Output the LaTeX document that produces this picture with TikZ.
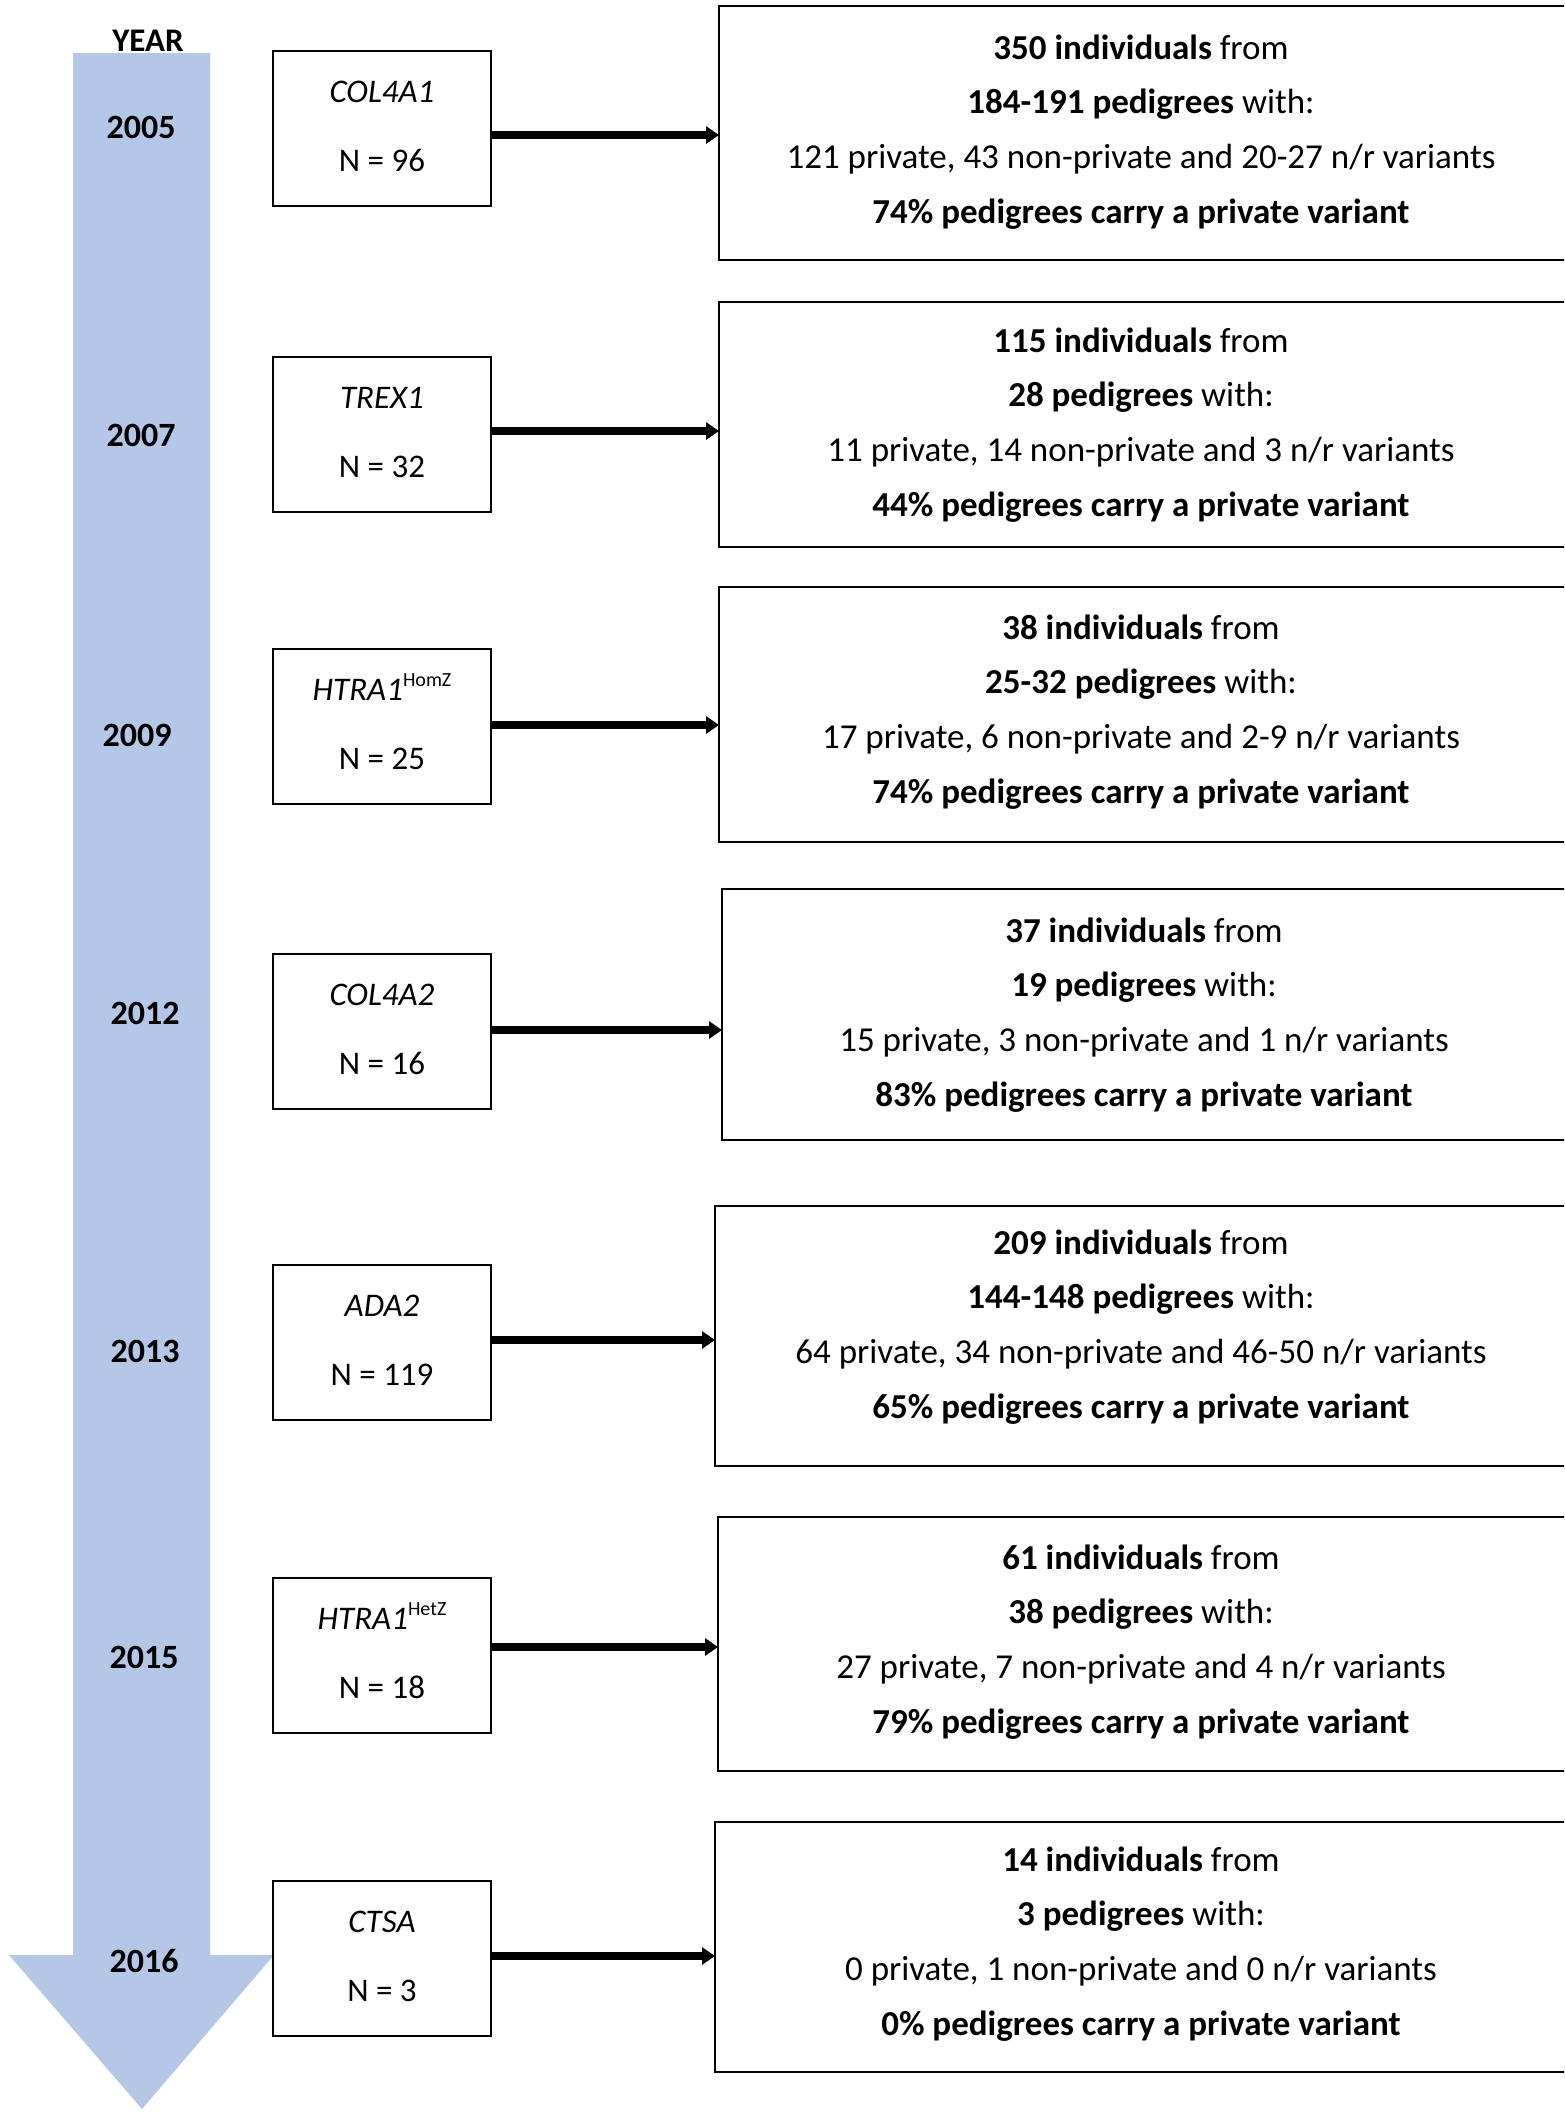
\documentclass[tikz,border=0pt]{standalone}
\usepackage{fontspec}
\setmainfont{Carlito}
\usetikzlibrary{arrows.meta}
\definecolor{tlblue}{RGB}{180,199,231}
\newcommand\hz[1]{\raisebox{0.42em}{\fontsize{20}{20}\selectfont\upshape #1}}
\begin{document}
\begin{tikzpicture}[x=1pt,y=-1pt,
  genebox/.style={draw=black, line width=2.5pt, fill=white, minimum width=218pt, minimum height=155pt, outer sep=0pt, inner sep=0pt, anchor=north west},
  infobox/.style={draw=black, line width=2.5pt, minimum width=880pt, outer sep=0pt, inner sep=0pt, anchor=north west},
  conn/.style={line width=8pt, -{Triangle[length=13pt,width=17pt]}},
  yeartxt/.style={font=\fontsize{34}{40}\selectfont\bfseries, anchor=base, inner sep=0pt},
  genetxt/.style={font=\fontsize{33}{40}\selectfont, anchor=base, inner sep=0pt},
  infotxt/.style={font=\fontsize{35}{42}\selectfont, anchor=base, inner sep=0pt},
]
\useasboundingbox (0,0) rectangle (1564,2112);
\clip (0,0) rectangle (1564,2112);

% timeline arrow
\fill[tlblue] (73,53) -- (210,53) -- (210,1955) -- (274,1955) -- (142,2109) -- (9,1955) -- (73,1955) -- cycle;
\node[yeartxt, font=\fontsize{33}{40}\selectfont\bfseries] (yr) at (148,51) {YEAR};
\node[yeartxt] (y1) at (141,138) {2005};
\node[yeartxt] (y2) at (141,446) {2007};
\node[yeartxt] (y3) at (137,746) {2009};
\node[yeartxt] (y4) at (145,1024) {2012};
\node[yeartxt] (y5) at (145,1362) {2013};
\node[yeartxt] (y6) at (144,1668) {2015};
\node[yeartxt] (y7) at (144,1972) {2016};

% gene boxes
\node[genebox] (s1) at (273,51) {};
\node[genebox] (s2) at (273,357) {};
\node[genebox] (s3) at (273,649) {};
\node[genebox] (s4) at (273,954) {};
\node[genebox] (s5) at (273,1265) {};
\node[genebox] (s6) at (273,1578) {};
\node[genebox] (s7) at (273,1881) {};

\node[genetxt] (g1) at (382,102) {\itshape COL4A1};
\node[genetxt] (n1) at (382,171) {N = 96};
\node[genetxt] (g2) at (382,408) {\itshape TREX1};
\node[genetxt] (n2) at (382,477) {N = 32};
\node[genetxt] (g3) at (382,700) {\itshape HTRA1\hz{HomZ}};
\node[genetxt] (n3) at (382,769) {N = 25};
\node[genetxt] (g4) at (382,1005) {\itshape COL4A2};
\node[genetxt] (n4) at (382,1074) {N = 16};
\node[genetxt] (g5) at (382,1316) {\itshape ADA2};
\node[genetxt] (n5) at (382,1385) {N = 119};
\node[genetxt] (g6) at (382,1629) {\itshape HTRA1\hz{HetZ}};
\node[genetxt] (n6) at (382,1698) {N = 18};
\node[genetxt] (g7) at (382,1932) {\itshape CTSA};
\node[genetxt] (n7) at (382,2001) {N = 3};

% info boxes
\node[infobox, minimum height=254pt] (b1) at (719,6) {};
\node[infobox, minimum height=245pt] (b2) at (719,302) {};
\node[infobox, minimum height=255pt] (b3) at (719,587) {};
\node[infobox, minimum height=251pt] (b4) at (722,889) {};
\node[infobox, minimum height=260pt] (b5) at (715,1206) {};
\node[infobox, minimum height=254pt] (b6) at (718,1517) {};
\node[infobox, minimum height=250pt] (b7) at (715,1822) {};

% info texts
\node[infotxt] (t1a) at (1141,59) {\textbf{350 individuals} from};
\node[infotxt] (t1b) at (1141,113) {\textbf{184-191 pedigrees} with:};
\node[infotxt] (t1c) at (1141,168) {121 private, 43 non-private and 20-27 n/r variants};
\node[infotxt] (t1d) at (1141,223) {\textbf{74\% pedigrees carry a private variant}};

\node[infotxt] (t2a) at (1141,352) {\textbf{115 individuals} from};
\node[infotxt] (t2b) at (1141,406) {\textbf{28 pedigrees} with:};
\node[infotxt] (t2c) at (1141,461) {11 private, 14 non-private and 3 n/r variants};
\node[infotxt] (t2d) at (1141,516) {\textbf{44\% pedigrees carry a private variant}};

\node[infotxt] (t3a) at (1141,639) {\textbf{38 individuals} from};
\node[infotxt] (t3b) at (1141,693) {\textbf{25-32 pedigrees} with:};
\node[infotxt] (t3c) at (1141,748) {17 private, 6 non-private and 2-9 n/r variants};
\node[infotxt] (t3d) at (1141,803) {\textbf{74\% pedigrees carry a private variant}};

\node[infotxt] (t4a) at (1144,942) {\textbf{37 individuals} from};
\node[infotxt] (t4b) at (1144,996) {\textbf{19 pedigrees} with:};
\node[infotxt] (t4c) at (1144,1051) {15 private, 3 non-private and 1 n/r variants};
\node[infotxt] (t4d) at (1144,1106) {\textbf{83\% pedigrees carry a private variant}};

\node[infotxt] (t5a) at (1141,1254) {\textbf{209 individuals} from};
\node[infotxt] (t5b) at (1141,1308) {\textbf{144-148 pedigrees} with:};
\node[infotxt] (t5c) at (1141,1363) {64 private, 34 non-private and 46-50 n/r variants};
\node[infotxt] (t5d) at (1141,1418) {\textbf{65\% pedigrees carry a private variant}};

\node[infotxt] (t6a) at (1141,1569) {\textbf{61 individuals} from};
\node[infotxt] (t6b) at (1141,1623) {\textbf{38 pedigrees} with:};
\node[infotxt] (t6c) at (1141,1678) {27 private, 7 non-private and 4 n/r variants};
\node[infotxt] (t6d) at (1141,1733) {\textbf{79\% pedigrees carry a private variant}};

\node[infotxt] (t7a) at (1141,1871) {\textbf{14 individuals} from};
\node[infotxt] (t7b) at (1141,1925) {\textbf{3 pedigrees} with:};
\node[infotxt] (t7c) at (1141,1980) {0 private, 1 non-private and 0 n/r variants};
\node[infotxt] (t7d) at (1141,2035) {\textbf{0\% pedigrees carry a private variant}};

% connectors
\coordinate (a1) at (0,135);
\coordinate (a2) at (0,431);
\coordinate (a3) at (0,725);
\coordinate (a4) at (0,1030);
\coordinate (a5) at (0,1340);
\coordinate (a6) at (0,1647);
\coordinate (a7) at (0,1956);
\draw[conn] (s1.east |- a1) -- (b1.west |- a1);
\draw[conn] (s2.east |- a2) -- (b2.west |- a2);
\draw[conn] (s3.east |- a3) -- (b3.west |- a3);
\draw[conn] (s4.east |- a4) -- (b4.west |- a4);
\draw[conn] (s5.east |- a5) -- (b5.west |- a5);
\draw[conn] (s6.east |- a6) -- (b6.west |- a6);
\draw[conn] (s7.east |- a7) -- (b7.west |- a7);
\end{tikzpicture}
\end{document}
